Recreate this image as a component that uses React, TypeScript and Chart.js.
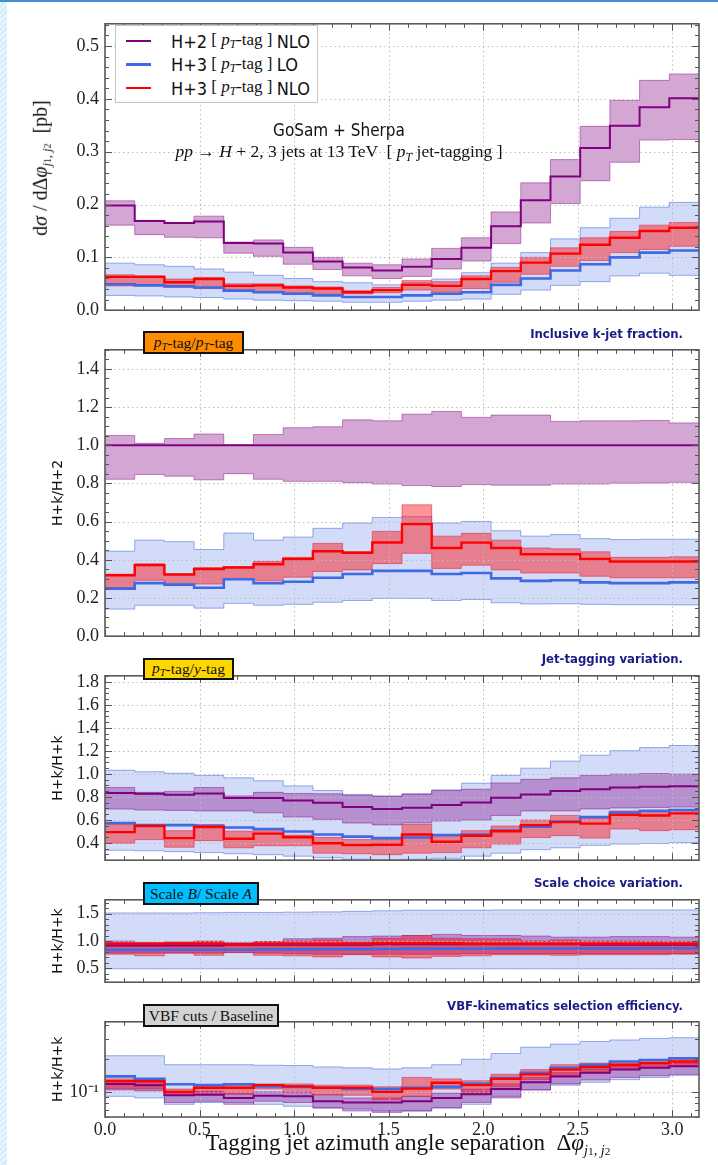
import React, { useEffect, useRef } from 'react';
import { Chart, registerables } from 'chart.js';

Chart.register(...registerables);

// Δφ(j1,j2) bin edges: 20 bins spanning [0, π]
const binEdges = [0.0, 0.1571, 0.3142, 0.4712, 0.6283, 0.7854, 0.9425, 1.0996, 1.2566, 1.4137, 1.5708,
  1.7279, 1.885, 2.042, 2.1991, 2.3562, 2.5133, 2.6704, 2.8274, 2.9845, 3.1416];

const xTickValues = [0, 0.5, 1.0, 1.5, 2.0, 2.5, 3.0];

// Panel 1: dσ/dΔφ [pb]
const xsH2 = [0.198, 0.169, 0.165, 0.168, 0.127, 0.126, 0.109, 0.092, 0.081, 0.075, 0.082, 0.097, 0.118, 0.159, 0.208, 0.253, 0.307, 0.349, 0.384, 0.401];
const xsH2Up = [0.207, 0.170, 0.166, 0.178, 0.129, 0.133, 0.119, 0.100, 0.089, 0.086, 0.097, 0.117, 0.137, 0.186, 0.241, 0.285, 0.348, 0.397, 0.435, 0.447];
const xsH2Dn = [0.161, 0.143, 0.138, 0.137, 0.108, 0.102, 0.087, 0.077, 0.065, 0.060, 0.064, 0.078, 0.093, 0.126, 0.165, 0.202, 0.245, 0.280, 0.322, 0.323];
const xsH3LO = [0.049, 0.047, 0.045, 0.043, 0.037, 0.034, 0.031, 0.028, 0.025, 0.025, 0.028, 0.031, 0.034, 0.048, 0.060, 0.075, 0.087, 0.100, 0.109, 0.113];
const xsH3LOUp = [0.089, 0.086, 0.083, 0.078, 0.072, 0.066, 0.060, 0.054, 0.052, 0.048, 0.052, 0.059, 0.071, 0.089, 0.109, 0.135, 0.156, 0.174, 0.195, 0.204];
const xsH3LODn = [0.028, 0.027, 0.025, 0.024, 0.021, 0.019, 0.018, 0.017, 0.015, 0.015, 0.017, 0.019, 0.021, 0.030, 0.038, 0.047, 0.054, 0.065, 0.070, 0.066];
const xsH3NLO = [0.063, 0.063, 0.053, 0.059, 0.046, 0.047, 0.043, 0.041, 0.034, 0.038, 0.048, 0.046, 0.059, 0.074, 0.090, 0.107, 0.124, 0.137, 0.150, 0.156];
const xsH3NLOUp = [0.067, 0.065, 0.059, 0.062, 0.050, 0.050, 0.046, 0.044, 0.037, 0.043, 0.056, 0.054, 0.065, 0.081, 0.100, 0.118, 0.137, 0.149, 0.161, 0.166];
const xsH3NLODn = [0.046, 0.047, 0.044, 0.041, 0.038, 0.034, 0.033, 0.030, 0.031, 0.033, 0.038, 0.034, 0.041, 0.053, 0.068, 0.083, 0.094, 0.109, 0.115, 0.121];

// Panel 2: inclusive k-jet fraction, H+k / H+2
const fracH2 = [1, 1, 1, 1, 1, 1, 1, 1, 1, 1, 1, 1, 1, 1, 1, 1, 1, 1, 1, 1];
const fracH2Up = [1.051, 1.010, 1.035, 1.059, 1.002, 1.056, 1.092, 1.097, 1.133, 1.128, 1.163, 1.177, 1.146, 1.158, 1.158, 1.125, 1.128, 1.128, 1.130, 1.117];
const fracH2Dn = [0.822, 0.847, 0.838, 0.819, 0.851, 0.822, 0.811, 0.811, 0.804, 0.797, 0.789, 0.784, 0.794, 0.791, 0.791, 0.797, 0.797, 0.801, 0.802, 0.806];
const fracLO = [0.249, 0.278, 0.270, 0.254, 0.298, 0.277, 0.285, 0.306, 0.326, 0.342, 0.342, 0.326, 0.331, 0.303, 0.290, 0.293, 0.282, 0.278, 0.278, 0.282];
const fracLOUp = [0.445, 0.503, 0.495, 0.454, 0.540, 0.503, 0.519, 0.565, 0.593, 0.622, 0.626, 0.593, 0.601, 0.552, 0.524, 0.532, 0.511, 0.506, 0.508, 0.508];
const fracLODn = [0.142, 0.162, 0.162, 0.147, 0.172, 0.162, 0.167, 0.178, 0.187, 0.198, 0.198, 0.187, 0.192, 0.175, 0.169, 0.170, 0.167, 0.165, 0.165, 0.164];
const fracNLO = [0.319, 0.372, 0.323, 0.352, 0.360, 0.377, 0.404, 0.445, 0.437, 0.491, 0.588, 0.462, 0.490, 0.462, 0.429, 0.429, 0.404, 0.391, 0.391, 0.391];
const fracNLOUp = [0.325, 0.380, 0.326, 0.359, 0.364, 0.391, 0.413, 0.486, 0.442, 0.549, 0.688, 0.524, 0.539, 0.503, 0.462, 0.458, 0.442, 0.413, 0.413, 0.416];
const fracNLODn = [0.254, 0.293, 0.265, 0.273, 0.298, 0.290, 0.309, 0.339, 0.347, 0.380, 0.434, 0.355, 0.372, 0.347, 0.331, 0.331, 0.314, 0.306, 0.306, 0.306];

// Panel 3: jet-tagging variation, pT-tag / y-tag
const tagH2 = [0.835, 0.827, 0.820, 0.830, 0.791, 0.791, 0.770, 0.749, 0.712, 0.694, 0.707, 0.730, 0.751, 0.793, 0.822, 0.851, 0.867, 0.882, 0.888, 0.893];
const tagH2Up = [0.882, 0.840, 0.848, 0.882, 0.809, 0.840, 0.830, 0.827, 0.814, 0.809, 0.827, 0.856, 0.867, 0.922, 0.953, 0.966, 0.987, 0.998, 1.003, 0.998];
const tagH2Dn = [0.694, 0.686, 0.683, 0.678, 0.678, 0.662, 0.625, 0.605, 0.573, 0.557, 0.573, 0.591, 0.599, 0.639, 0.678, 0.678, 0.696, 0.704, 0.709, 0.712];
const tagLO = [0.573, 0.555, 0.555, 0.547, 0.534, 0.521, 0.500, 0.473, 0.455, 0.442, 0.447, 0.468, 0.473, 0.507, 0.542, 0.586, 0.625, 0.665, 0.678, 0.686];
const tagLOUp = [1.032, 1.019, 1.006, 0.987, 0.966, 0.940, 0.896, 0.856, 0.822, 0.804, 0.822, 0.861, 0.919, 0.987, 1.050, 1.111, 1.163, 1.202, 1.229, 1.247];
const tagLODn = [0.337, 0.332, 0.324, 0.316, 0.306, 0.298, 0.285, 0.272, 0.258, 0.253, 0.258, 0.266, 0.285, 0.311, 0.342, 0.358, 0.379, 0.390, 0.395, 0.403];
const tagNLO = [0.494, 0.547, 0.442, 0.539, 0.437, 0.481, 0.450, 0.397, 0.382, 0.384, 0.473, 0.410, 0.463, 0.502, 0.555, 0.581, 0.568, 0.644, 0.639, 0.657];
const tagNLOUp = [0.560, 0.560, 0.507, 0.560, 0.502, 0.507, 0.468, 0.447, 0.429, 0.429, 0.560, 0.468, 0.507, 0.547, 0.599, 0.639, 0.612, 0.678, 0.686, 0.691];
const tagNLODn = [0.397, 0.429, 0.363, 0.420, 0.358, 0.376, 0.376, 0.311, 0.306, 0.298, 0.311, 0.316, 0.358, 0.390, 0.447, 0.463, 0.442, 0.521, 0.507, 0.515];

// Panel 4: scale choice variation, scale B / scale A
const scaleH2 = [0.92, 0.92, 0.92, 0.92, 0.93, 0.93, 0.93, 0.93, 0.93, 0.94, 0.94, 0.94, 0.94, 0.94, 0.94, 0.94, 0.93, 0.93, 0.93, 0.93];
const scaleH2Up = [1.00, 0.97, 0.98, 0.99, 0.97, 0.99, 1.04, 1.05, 1.08, 1.09, 1.10, 1.12, 1.10, 1.10, 1.09, 1.07, 1.07, 1.08, 1.08, 1.07];
const scaleH2Dn = [0.78, 0.78, 0.78, 0.78, 0.79, 0.78, 0.77, 0.76, 0.76, 0.76, 0.76, 0.76, 0.77, 0.77, 0.77, 0.77, 0.77, 0.77, 0.77, 0.77];
const scaleLO = [0.838, 0.838, 0.840, 0.840, 0.842, 0.845, 0.848, 0.850, 0.852, 0.855, 0.857, 0.858, 0.860, 0.862, 0.863, 0.864, 0.865, 0.866, 0.867, 0.868];
const scaleLOUp = [1.51, 1.51, 1.51, 1.515, 1.52, 1.52, 1.525, 1.53, 1.54, 1.55, 1.56, 1.56, 1.56, 1.565, 1.565, 1.565, 1.565, 1.565, 1.565, 1.565];
const scaleLODn = [0.495, 0.495, 0.495, 0.495, 0.495, 0.495, 0.495, 0.495, 0.495, 0.495, 0.495, 0.495, 0.495, 0.495, 0.495, 0.495, 0.495, 0.495, 0.495, 0.495];
const scaleNLO = [0.95, 0.95, 0.95, 0.95, 0.94, 0.95, 0.95, 0.95, 0.95, 0.96, 0.96, 0.96, 0.95, 0.95, 0.95, 0.95, 0.95, 0.95, 0.95, 0.95];
const scaleNLOUp = [0.97, 0.96, 0.98, 1.00, 0.94, 0.99, 1.00, 1.02, 0.98, 1.05, 1.10, 1.05, 1.04, 1.04, 1.00, 1.02, 1.00, 1.00, 0.99, 0.99];
const scaleNLODn = [0.76, 0.73, 0.78, 0.74, 0.79, 0.74, 0.73, 0.71, 0.75, 0.71, 0.69, 0.72, 0.73, 0.75, 0.75, 0.74, 0.75, 0.75, 0.75, 0.76];

// Panel 5: VBF cuts / baseline selection efficiency
const vbfH2 = [0.119, 0.116, 0.094, 0.095, 0.089, 0.093, 0.092, 0.083, 0.081, 0.081, 0.083, 0.089, 0.096, 0.107, 0.123, 0.139, 0.150, 0.160, 0.166, 0.171];
const vbfH2Up = [0.126, 0.124, 0.101, 0.102, 0.098, 0.101, 0.099, 0.095, 0.089, 0.089, 0.092, 0.098, 0.107, 0.119, 0.136, 0.150, 0.162, 0.171, 0.177, 0.183];
const vbfH2Dn = [0.105, 0.103, 0.081, 0.083, 0.078, 0.083, 0.081, 0.072, 0.068, 0.066, 0.068, 0.073, 0.081, 0.089, 0.105, 0.119, 0.129, 0.136, 0.141, 0.145];
const vbfLO = [0.139, 0.132, 0.118, 0.116, 0.118, 0.113, 0.112, 0.110, 0.107, 0.107, 0.110, 0.112, 0.119, 0.134, 0.150, 0.166, 0.177, 0.189, 0.195, 0.202];
const vbfLOUp = [0.213, 0.213, 0.177, 0.177, 0.177, 0.175, 0.174, 0.169, 0.166, 0.162, 0.166, 0.177, 0.198, 0.223, 0.254, 0.271, 0.286, 0.295, 0.305, 0.309];
const vbfLODn = [0.092, 0.089, 0.078, 0.081, 0.081, 0.078, 0.075, 0.073, 0.071, 0.068, 0.068, 0.072, 0.078, 0.092, 0.105, 0.116, 0.123, 0.130, 0.136, 0.142];
const vbfNLO = [0.126, 0.126, 0.101, 0.110, 0.110, 0.116, 0.113, 0.110, 0.110, 0.101, 0.108, 0.122, 0.116, 0.132, 0.145, 0.160, 0.169, 0.177, 0.183, 0.189];
const vbfNLOUp = [0.132, 0.132, 0.107, 0.116, 0.116, 0.119, 0.119, 0.116, 0.116, 0.112, 0.136, 0.132, 0.127, 0.145, 0.160, 0.177, 0.183, 0.189, 0.193, 0.198];
const vbfNLODn = [0.108, 0.107, 0.094, 0.098, 0.096, 0.107, 0.100, 0.095, 0.094, 0.086, 0.092, 0.107, 0.098, 0.112, 0.130, 0.141, 0.150, 0.160, 0.166, 0.171];

// Y-axis labelled tick values per panel
const p1Ticks = [0, 0.1, 0.2, 0.3, 0.4, 0.5];
const p2Ticks = [0, 0.2, 0.4, 0.6, 0.8, 1.0, 1.2, 1.4];
const p3Ticks = [0.4, 0.6, 0.8, 1.0, 1.2, 1.4, 1.6, 1.8];
const p4Ticks = [0.5, 1.0, 1.5];
const p5Ticks = [0.1];
const p5Minor = [0.06, 0.07, 0.08, 0.09, 0.2, 0.3, 0.4];

// Legend entries
const legendProcesses = ['H+2', 'H+3', 'H+3'];
const legendOrders = ['NLO', 'LO', 'NLO'];

const PURPLE = '#800080';
const BLUE = '#4169e1';
const RED = '#ff0000';
const SERIF = '"Liberation Serif", "DejaVu Serif", serif';
const CANVAS_SERIF = 'Liberation Serif';
const SANS_N = '"Liberation Sans Narrow", "DejaVu Sans Condensed", "Liberation Sans", sans-serif';
const NAVY = '#1b1b86';

Chart.defaults.font.family = CANVAS_SERIF;

const AXIS_W = 105; // canvas x of the plot's left edge
const RIGHT_PAD = 19; // 718 - plot right edge
const TOP_PAD = 10;

function stepRange(a: number, b: number, s: number) {
  const out: number[] = [];
  for (let v = a; v <= b + 1e-9; v += s) out.push(Math.round(v * 1000) / 1000);
  return out;
}

function steps(vals: number[]) {
  const pts = vals.map((v, i) => ({ x: binEdges[i], y: v }));
  pts.push({ x: binEdges[vals.length], y: vals[vals.length - 1] });
  return pts;
}

type Band = { mid: number[]; up: number[]; dn: number[] };

function datasetsFor(h2: Band, lo: Band, nlo: Band) {
  const line = (b: Band, color: string, w: number) => ({
    data: steps(b.mid), borderColor: color, borderWidth: w, stepped: true,
    pointRadius: 0, fill: false,
  });
  const upper = (b: Band, edge: string, fillColor: string) => ({
    data: steps(b.up), borderColor: edge, borderWidth: 1, stepped: true,
    pointRadius: 0, fill: '+1', backgroundColor: fillColor,
  });
  const lower = (b: Band, edge: string) => ({
    data: steps(b.dn), borderColor: edge, borderWidth: 1, stepped: true,
    pointRadius: 0, fill: false,
  });
  // first dataset is painted last (on top)
  return [
    line(nlo, RED, 2.4),
    line(h2, PURPLE, 2),
    line(lo, BLUE, 2.6),
    upper(nlo, 'rgba(220,20,60,0.5)', 'rgba(255,0,0,0.42)'),
    lower(nlo, 'rgba(220,20,60,0.5)'),
    upper(h2, 'rgba(128,0,128,0.45)', 'rgba(128,0,128,0.35)'),
    lower(h2, 'rgba(128,0,128,0.45)'),
    upper(lo, 'rgba(65,105,225,0.55)', 'rgba(65,105,225,0.24)'),
    lower(lo, 'rgba(65,105,225,0.55)'),
  ];
}

type Panel = {
  top: number; bottom: number; log: boolean; min: number; max: number;
  ticks: number[]; minor: number[]; fmt: (v: number) => string; title: string;
  showX: boolean; h2: Band; lo: Band; nlo: Band;
};

const panels: Panel[] = [
  {
    top: 17, bottom: 323, log: false, min: 0, max: 0.542, ticks: p1Ticks, minor: stepRange(0, 0.54, 0.02),
    fmt: (v) => v.toFixed(1), title: '', showX: false,
    h2: { mid: xsH2, up: xsH2Up, dn: xsH2Dn },
    lo: { mid: xsH3LO, up: xsH3LOUp, dn: xsH3LODn },
    nlo: { mid: xsH3NLO, up: xsH3NLOUp, dn: xsH3NLODn },
  },
  {
    top: 343, bottom: 649, log: false, min: 0, max: 1.5, ticks: p2Ticks, minor: stepRange(0, 1.5, 0.05),
    fmt: (v) => v.toFixed(1), title: 'H+k/H+2', showX: false,
    h2: { mid: fracH2, up: fracH2Up, dn: fracH2Dn },
    lo: { mid: fracLO, up: fracLOUp, dn: fracLODn },
    nlo: { mid: fracNLO, up: fracNLOUp, dn: fracNLODn },
  },
  {
    top: 669, bottom: 873, log: false, min: 0.25, max: 1.853, ticks: p3Ticks, minor: stepRange(0.25, 1.85, 0.05),
    fmt: (v) => v.toFixed(1), title: 'H+k/H+k', showX: false,
    h2: { mid: tagH2, up: tagH2Up, dn: tagH2Dn },
    lo: { mid: tagLO, up: tagLOUp, dn: tagLODn },
    nlo: { mid: tagNLO, up: tagNLOUp, dn: tagNLODn },
  },
  {
    top: 893, bottom: 995, log: false, min: 0.25, max: 1.75, ticks: p4Ticks, minor: stepRange(0.3, 1.7, 0.1),
    fmt: (v) => v.toFixed(1), title: 'H+k/H+k', showX: false,
    h2: { mid: scaleH2, up: scaleH2Up, dn: scaleH2Dn },
    lo: { mid: scaleLO, up: scaleLOUp, dn: scaleLODn },
    nlo: { mid: scaleNLO, up: scaleNLOUp, dn: scaleNLODn },
  },
  {
    top: 1015, bottom: 1117, log: true, min: 0.06, max: 0.43, ticks: p5Ticks, minor: p5Minor,
    fmt: () => '10\u207B\u00B9', title: 'H+k/H+k', showX: true,
    h2: { mid: vbfH2, up: vbfH2Up, dn: vbfH2Dn },
    lo: { mid: vbfLO, up: vbfLOUp, dn: vbfLODn },
    nlo: { mid: vbfNLO, up: vbfNLOUp, dn: vbfNLODn },
  },
];

const xMinor = stepRange(0, 3.1, 0.1);

function bottomExtra(p: Panel) {
  return p.showX ? 34 : 4;
}

// Frame, inward ticks on all four sides and dotted major grid
function framePlugin(p: Panel) {
  return {
    id: 'frameTicks',
    beforeDatasetDraw(chart: any, args: any) {
      if (args.index !== 2) return;
      const { ctx, chartArea: a, scales } = chart;
      ctx.save();
      ctx.beginPath();
      ctx.rect(a.left, a.top, a.right - a.left, a.bottom - a.top);
      ctx.clip();
      ctx.strokeStyle = '#bcbcbc';
      ctx.lineWidth = 1;
      ctx.setLineDash([1.5, 3]);
      for (const v of xTickValues) {
        const px = Math.round(scales.x.getPixelForValue(v)) + 0.5;
        ctx.beginPath(); ctx.moveTo(px, a.top); ctx.lineTo(px, a.bottom); ctx.stroke();
      }
      for (const v of p.ticks) {
        const py = Math.round(scales.y.getPixelForValue(v)) + 0.5;
        ctx.beginPath(); ctx.moveTo(a.left, py); ctx.lineTo(a.right, py); ctx.stroke();
      }
      ctx.restore();
    },
    afterDatasetsDraw(chart: any) {
      const { ctx, chartArea: a, scales } = chart;
      ctx.save();
      ctx.strokeStyle = '#555';
      ctx.lineWidth = 1;
      const tick = (x1: number, y1: number, x2: number, y2: number) => {
        ctx.beginPath(); ctx.moveTo(x1, y1); ctx.lineTo(x2, y2); ctx.stroke();
      };
      const xs = (vals: number[], len: number) => {
        for (const v of vals) {
          const px = Math.round(scales.x.getPixelForValue(v)) + 0.5;
          tick(px, a.bottom, px, a.bottom - len);
          tick(px, a.top, px, a.top + len);
        }
      };
      const ys = (vals: number[], len: number) => {
        for (const v of vals) {
          if (v < scales.y.min || v > scales.y.max) continue;
          const py = Math.round(scales.y.getPixelForValue(v)) + 0.5;
          tick(a.left, py, a.left + len, py);
          tick(a.right, py, a.right - len, py);
        }
      };
      xs(xMinor, 4);
      xs(xTickValues, 7);
      ys(p.minor, 4);
      ys(p.ticks, 7);
      ctx.lineWidth = 1.6;
      ctx.strokeStyle = '#5a5a5a';
      ctx.strokeRect(a.left, a.top, a.right - a.left, a.bottom - a.top);
      ctx.restore();
    },
  };
}

function buildConfig(p: Panel): any {
  return {
    type: 'line',
    data: { datasets: datasetsFor(p.h2, p.lo, p.nlo) },
    options: {
      animation: false,
      responsive: false,
      devicePixelRatio: 1,
      events: [],
      layout: { padding: { left: 0, right: RIGHT_PAD, top: TOP_PAD, bottom: 0 } },
      plugins: { legend: { display: false }, tooltip: { enabled: false } },
      scales: {
        x: {
          type: 'linear', min: 0, max: binEdges[binEdges.length - 1], bounds: 'data',
          grid: { display: false, drawTicks: false }, border: { display: false },
          ticks: {
            display: p.showX, autoSkip: false, maxRotation: 0, padding: 2,
            font: { family: CANVAS_SERIF, size: 18 }, color: '#222',
            callback: (v: any) => Number(v).toFixed(1),
          },
          afterBuildTicks: (s: any) => { s.ticks = xTickValues.map((v) => ({ value: v })); },
          afterFit: (s: any) => { s.height = bottomExtra(p); },
        },
        y: {
          type: p.log ? 'logarithmic' : 'linear', min: p.min, max: p.max, bounds: 'data',
          grid: { display: false, drawTicks: false }, border: { display: false },
          ticks: {
            autoSkip: false, padding: 6, font: { family: CANVAS_SERIF, size: 18 }, color: '#222',
            callback: (v: any) => p.fmt(Number(v)),
          },
          title: {
            display: p.title !== '', text: p.title, color: '#111',
            font: { family: 'DejaVu Sans', size: 14 }, padding: { top: 50, bottom: 0 },
          },
          afterBuildTicks: (s: any) => { s.ticks = p.ticks.map((v) => ({ value: v })); },
          afterFit: (s: any) => { s.width = AXIS_W; },
        },
      },
    },
    plugins: [framePlugin(p)],
  };
}

const pT = (
  <span><i>p</i><span style={{ fontSize: '0.68em', verticalAlign: '-0.3em' }}><i>T</i></span></span>
);

function TagBox(props: { left: number; top: number; width: number; height: number; bg: string; children: any }) {
  const { left, top, width, height, bg, children } = props;
  return (
    <div style={{
      position: 'absolute', left, top, width, height, boxSizing: 'border-box', background: bg,
      border: '2px solid #111', display: 'flex', alignItems: 'center', justifyContent: 'center',
      fontFamily: SERIF, fontSize: 15.5, color: '#111', whiteSpace: 'nowrap', zIndex: 2,
    }}>{children}</div>
  );
}

function Caption(props: { y: number; text: string }) {
  return (
    <div style={{
      position: 'absolute', right: 718 - 683, top: props.y - 9, height: 18, lineHeight: '18px',
      fontFamily: SANS_N, fontWeight: 'bold', fontSize: 13, color: NAVY, whiteSpace: 'nowrap', zIndex: 2,
    }}>{props.text}</div>
  );
}

export default function App() {
  const refs = useRef<(HTMLCanvasElement | null)[]>([]);

  useEffect(() => {
    const charts = panels.map((p, i) => new Chart(refs.current[i] as HTMLCanvasElement, buildConfig(p)));
    return () => charts.forEach((c) => c.destroy());
  }, []);

  const legendColors = [PURPLE, BLUE, RED];
  const legendWidths = [2, 3, 2.5];

  return (
    <div style={{ position: 'absolute', left: 0, top: 0, width: 718, height: 1165, background: '#fff', overflow: 'hidden' }}>
      <div style={{
        position: 'absolute', left: 0, top: 0, width: 7, height: 1165,
        background: 'repeating-linear-gradient(135deg, #d3eefa 0px, #d3eefa 2px, #e8f7fd 2px, #e8f7fd 4px)',
      }} />
      <div style={{ position: 'absolute', left: 0, top: 0, width: 718, height: 2, background: '#3f8fd2' }} />

      {panels.map((p, i) => (
        <canvas
          key={i}
          ref={(el) => { refs.current[i] = el; }}
          width={718}
          height={p.bottom - p.top + TOP_PAD + bottomExtra(p)}
          style={{ position: 'absolute', left: 0, top: p.top - TOP_PAD, zIndex: 1 }}
        />
      ))}

      {/* legend */}
      <div style={{
        position: 'absolute', left: 115, top: 25, width: 203, height: 78, boxSizing: 'border-box',
        border: '1px solid #c4c4c4', background: '#fff', zIndex: 2,
      }}>
        {legendProcesses.map((proc, i) => (
          <div key={i} style={{
            position: 'absolute', left: 0, top: 3 + i * 23.5, height: 24, display: 'flex', alignItems: 'center',
            whiteSpace: 'nowrap', color: '#111',
          }}>
            <span style={{ display: 'inline-block', width: 25, height: legendWidths[i], background: legendColors[i], marginLeft: 10, marginRight: 20 }} />
            <span style={{ fontFamily: SANS_N, fontSize: 18 }}>{proc}</span>
            <span style={{ fontFamily: SERIF, fontSize: 17 }}>&nbsp;[ {pT}-tag ]&nbsp;</span>
            <span style={{ fontFamily: SANS_N, fontSize: 18 }}>{legendOrders[i]}</span>
          </div>
        ))}
      </div>

      {/* process annotation */}
      <div style={{
        position: 'absolute', left: 339, top: 130, transform: 'translate(-50%,-50%)', whiteSpace: 'nowrap',
        fontFamily: SANS_N, fontSize: 17, color: '#111', zIndex: 2,
      }}>GoSam + Sherpa</div>
      <div style={{
        position: 'absolute', left: 339, top: 153, transform: 'translate(-50%,-50%)', whiteSpace: 'nowrap',
        fontFamily: SERIF, fontSize: 17.5, color: '#111', zIndex: 2,
      }}><i>pp</i> → <i>H</i> + 2, 3 jets at 13 TeV &nbsp;[ {pT} jet-tagging ]</div>

      {/* y title of the cross-section panel */}
      <div style={{
        position: 'absolute', left: 42, top: 168, transform: 'translate(-50%,-50%) rotate(-90deg)',
        whiteSpace: 'nowrap', fontFamily: SERIF, fontSize: 20, color: '#111', zIndex: 2,
      }}>
        d<i>σ</i> / dΔ<i>φ</i>
        <span style={{ fontSize: '0.62em', verticalAlign: '-0.35em' }}>
          <i>j</i><span style={{ fontSize: '0.8em' }}>1</span>, <i>j</i><span style={{ fontSize: '0.8em' }}>2</span>
        </span>
        &nbsp; [pb]
      </div>

      {/* panel tags */}
      <TagBox left={143} top={331} width={101} height={23} bg="#ff8c00">{pT}-tag/{pT}-tag</TagBox>
      <TagBox left={143} top={658} width={91} height={22} bg="#ffd700">{pT}-tag/<i>y</i>-tag</TagBox>
      <TagBox left={143} top={882} width={116} height={23} bg="#00bfff">Scale <i>&nbsp;B</i>/ Scale <i>&nbsp;A</i></TagBox>
      <TagBox left={143} top={1004} width={136} height={23} bg="#d3d3d3">VBF cuts / Baseline</TagBox>

      <Caption y={334} text="Inclusive k-jet fraction." />
      <Caption y={659} text="Jet-tagging variation." />
      <Caption y={883} text="Scale choice variation." />
      <Caption y={1006} text="VBF-kinematics selection efficiency." />

      {/* x title */}
      <div style={{
        position: 'absolute', left: 408, top: 1144, transform: 'translate(-50%,-50%)', whiteSpace: 'nowrap',
        fontFamily: SERIF, fontSize: 23, color: '#111', zIndex: 2,
      }}>
        Tagging jet azimuth angle separation &nbsp;Δ<i>φ</i>
        <span style={{ fontSize: '0.62em', verticalAlign: '-0.35em' }}>
          <i>j</i><span style={{ fontSize: '0.8em' }}>1</span>, <i>j</i><span style={{ fontSize: '0.8em' }}>2</span>
        </span>
      </div>
    </div>
  );
}
